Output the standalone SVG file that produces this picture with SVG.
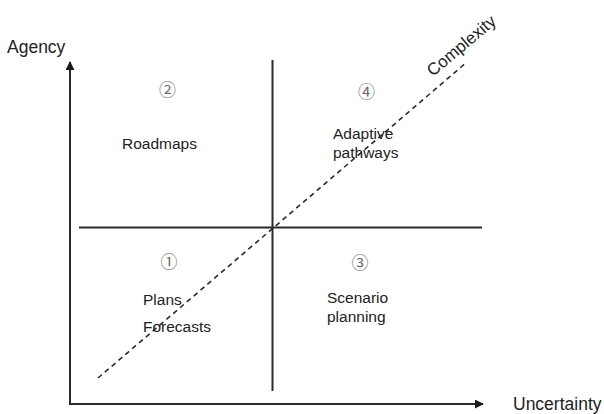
<svg xmlns="http://www.w3.org/2000/svg" width="604" height="414" viewBox="0 0 604 414">
  <style>
    .label { font-family: "Liberation Sans", Arial, sans-serif; fill: #222; }
    .axis-label { font-size: 17.5px; }
    .q-label { font-size: 15.5px; }
    .num { font-family: "Noto Sans CJK JP", "DejaVu Sans", sans-serif; font-size: 17px; fill: #6a6a6a; text-anchor: middle; }
    .line { stroke: #2a2a2a; stroke-width: 2; fill: none; }
    .dash { stroke: #2a2a2a; stroke-width: 1.6; stroke-dasharray: 5 4; fill: none; }
  </style>
  <defs>
    <marker id="arrow" viewBox="0 0 10 10" refX="9" refY="5" markerWidth="4.5" markerHeight="4.5" orient="auto" markerUnits="strokeWidth">
      <path d="M0,0 L10,5 L0,10 z" fill="#1a1a1a"/>
    </marker>
  </defs>
  <rect width="604" height="414" fill="#ffffff"/>

  <g id="connectors">
    <!-- axes -->
    <line class="line" x1="70" y1="404" x2="70" y2="62" marker-end="url(#arrow)"/>
    <line class="line" x1="69" y1="404" x2="483" y2="404" marker-end="url(#arrow)"/>
    <!-- quadrant dividers -->
    <line class="line" x1="79" y1="227.5" x2="482" y2="227.5"/>
    <line class="line" x1="272.5" y1="60" x2="272.5" y2="391"/>
    <!-- complexity diagonal -->
    <line class="dash" x1="98" y1="378" x2="467" y2="62"/>
  </g>

  <g id="axis-agency">
    <text class="label axis-label" x="7" y="53">Agency</text>
  </g>
  <g id="axis-uncertainty">
    <text class="label axis-label" x="513" y="410">Uncertainty</text>
  </g>
  <g id="axis-complexity">
    <text class="label axis-label" x="465" y="50" text-anchor="middle" transform="rotate(-40 465 50)" style="font-size:17px">Complexity</text>
  </g>

  <g id="quadrant-1">
    <text class="num" x="169" y="268">①</text>
    <text class="label q-label" x="143" y="305">Plans</text>
    <text class="label q-label" x="143" y="332">Forecasts</text>
  </g>
  <g id="quadrant-2">
    <text class="num" x="167.5" y="96">②</text>
    <text class="label q-label" x="122" y="149">Roadmaps</text>
  </g>
  <g id="quadrant-3">
    <text class="num" x="360" y="269">③</text>
    <text class="label q-label" x="327" y="303">Scenario</text>
    <text class="label q-label" x="327" y="322">planning</text>
  </g>
  <g id="quadrant-4">
    <text class="num" x="366.5" y="97.5">④</text>
    <text class="label q-label" x="333" y="139">Adaptive</text>
    <text class="label q-label" x="333" y="158">pathways</text>
  </g>
</svg>
